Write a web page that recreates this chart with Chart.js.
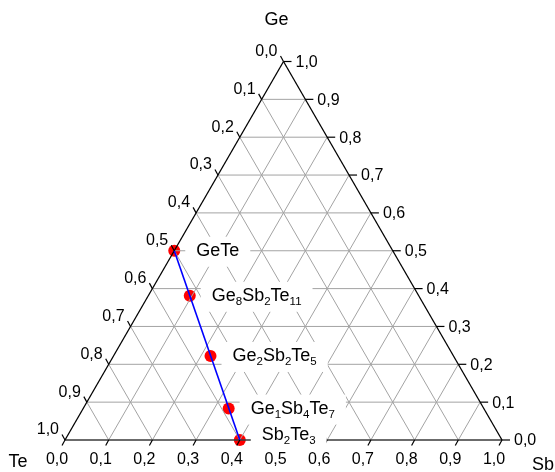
<!DOCTYPE html>
<html><head><meta charset="utf-8">
<script src="https://cdn.jsdelivr.net/npm/chart.js@4/dist/chart.umd.min.js"></script>
<style>html,body{margin:0;padding:0;background:#fff}canvas{display:block}</style>
</head><body>
<canvas id="c" width="555" height="472" style="width:555px;height:472px"></canvas>
<script>
// ---- data ----
const vertexTop = 'Ge';
const vertexLeft = 'Te';
const vertexRight = 'Sb';
const tickValues = [0.0, 0.1, 0.2, 0.3, 0.4, 0.5, 0.6, 0.7, 0.8, 0.9, 1.0];
const tickLabels = ['0,0','0,1','0,2','0,3','0,4','0,5','0,6','0,7','0,8','0,9','1,0'];
const compounds = ['GeTe', 'Ge8Sb2Te11', 'Ge2Sb2Te5', 'Ge1Sb4Te7', 'Sb2Te3'];
const geFrac = [0.500, 0.381, 0.222, 0.083, 0.000];
const sbFrac = [0.000, 0.095, 0.222, 0.333, 0.400];
const teFrac = [0.500, 0.524, 0.556, 0.583, 0.600];

// ---- geometry helpers ----
const S = Math.sqrt(3) / 2;
function cart(ge, sb) { return { x: sb + ge / 2, y: ge * S }; }

const datasets = [];
// markers (drawn first, underneath)
datasets.push({
  data: compounds.map((_, i) => cart(geFrac[i], sbFrac[i])),
  showLine: false, pointRadius: 6, pointBackgroundColor: '#ff0000',
  pointBorderWidth: 0, pointBorderColor: '#ff0000', order: 4, clip: false
});
// grid lines
for (let k = 1; k < tickValues.length - 1; k++) {
  const v = tickValues[k];
  const segs = [
    [cart(v, 0), cart(v, 1 - v)],        // constant Ge
    [cart(0, v), cart(1 - v, v)],        // constant Sb
    [cart(0, 1 - v), cart(1 - v, 0)]     // constant Te
  ];
  segs.forEach(s => datasets.push({
    data: s, showLine: true, borderColor: '#a3a3a3', borderWidth: 1,
    pointRadius: 0, order: 3, clip: false
  }));
}
// triangle edges
datasets.push({
  data: [cart(0, 0), cart(1, 0)], showLine: true, borderColor: '#000', borderWidth: 1.3,
  pointRadius: 0, order: 2, clip: false
});
datasets.push({
  data: [cart(1, 0), cart(0, 1)], showLine: true, borderColor: '#000', borderWidth: 1.3,
  pointRadius: 0, order: 2, clip: false
});
datasets.push({
  data: [cart(0, 0), cart(0, 1)], showLine: true, borderColor: '#3a3a3a', borderWidth: 1.4,
  pointRadius: 0, order: 2, clip: false
});
// tie line
datasets.push({
  data: [cart(geFrac[0], sbFrac[0]), cart(geFrac[4], sbFrac[4])],
  showLine: true, borderColor: '#0000ff', borderWidth: 1.6,
  pointRadius: 0, order: 1, clip: false
});

const FONT = '"Liberation Sans", Arial, Helvetica, sans-serif';

function splitFormula(name) {
  const runs = [];
  const re = /([A-Za-z]+)|(\d+)/g; let m;
  while ((m = re.exec(name))) runs.push({ t: m[0], sub: !!m[2] });
  return runs;
}

const overlay = {
  id: 'overlay',
  afterDatasetsDraw(chart) {
    const ctx = chart.ctx, xs = chart.scales.x, ys = chart.scales.y;
    const P = (ge, sb) => { const c = cart(ge, sb); return [xs.getPixelForValue(c.x), ys.getPixelForValue(c.y)]; };
    const line = (x1, y1, x2, y2) => { ctx.beginPath(); ctx.moveTo(x1, y1); ctx.lineTo(x2, y2); ctx.stroke(); };
    ctx.save();
    ctx.strokeStyle = '#000'; ctx.lineWidth = 1.2;
    // tick marks
    tickValues.forEach((v) => {
      let [x, y] = P(0, v); line(x, y, x - 3, y + 5.5);
      [x, y] = P(v, 1 - v); line(x, y, x + 8, y);
      [x, y] = P(1 - v, 0); line(x, y, x - 3, y - 5.5);
    });
    // compound label boxes + text
    const mainF = '18px ' + FONT, subF = '11.5px ' + FONT;
    const labelInfo = compounds.map((name, i) => {
      const [px, py] = P(geFrac[i], sbFrac[i]);
      const runs = splitFormula(name);
      let w = 0;
      runs.forEach(r => { ctx.font = r.sub ? subF : mainF; r.w = ctx.measureText(r.t).width; w += r.w; });
      return { x: px + 22, y: py + (i === 4 ? -5 : 0), runs, w };
    });
    ctx.fillStyle = '#fff';
    labelInfo.forEach(L => ctx.fillRect(L.x - 11, L.y - 14, L.w + 22, 30));
    ctx.fillStyle = '#000';
    ctx.textBaseline = 'middle'; ctx.textAlign = 'left';
    labelInfo.forEach(L => {
      let x = L.x;
      L.runs.forEach(r => {
        ctx.font = r.sub ? subF : mainF;
        ctx.fillText(r.t, x, r.sub ? L.y + 6 : L.y);
        x += r.w;
      });
    });
    // tick labels
    ctx.font = '16px ' + FONT;
    tickValues.forEach((v, i) => {
      let [x, y] = P(0, v);
      ctx.textAlign = 'center'; ctx.fillText(tickLabels[i], x - 8, y + 20);
      [x, y] = P(v, 1 - v);
      ctx.textAlign = 'left'; ctx.fillText(tickLabels[i], x + 12, y + 1);
      [x, y] = P(1 - v, 0);
      ctx.textAlign = 'right'; ctx.fillText(tickLabels[i], x - 6, y - 10);
    });
    // vertex labels
    ctx.font = '18px ' + FONT; ctx.textAlign = 'center';
    let [ax, ay] = P(1, 0); ctx.fillText(vertexTop, ax - 7, ay - 41);
    [ax, ay] = P(0, 0); ctx.fillText(vertexLeft, ax - 47, ay + 22);
    [ax, ay] = P(0, 1); ctx.textAlign = 'left'; ctx.fillText(vertexRight, ax + 30, ay + 25);
    ctx.restore();
  }
};

new Chart(document.getElementById('c'), {
  type: 'scatter',
  data: { datasets },
  options: {
    responsive: false, animation: false, events: [],
    layout: { padding: { left: 65, right: 53, top: 61.5, bottom: 32 } },
    scales: {
      x: { type: 'linear', min: 0, max: 1, display: false },
      y: { type: 'linear', min: 0, max: S, display: false }
    },
    plugins: { legend: { display: false }, tooltip: { enabled: false } }
  },
  plugins: [overlay]
});
</script>
</body></html>
